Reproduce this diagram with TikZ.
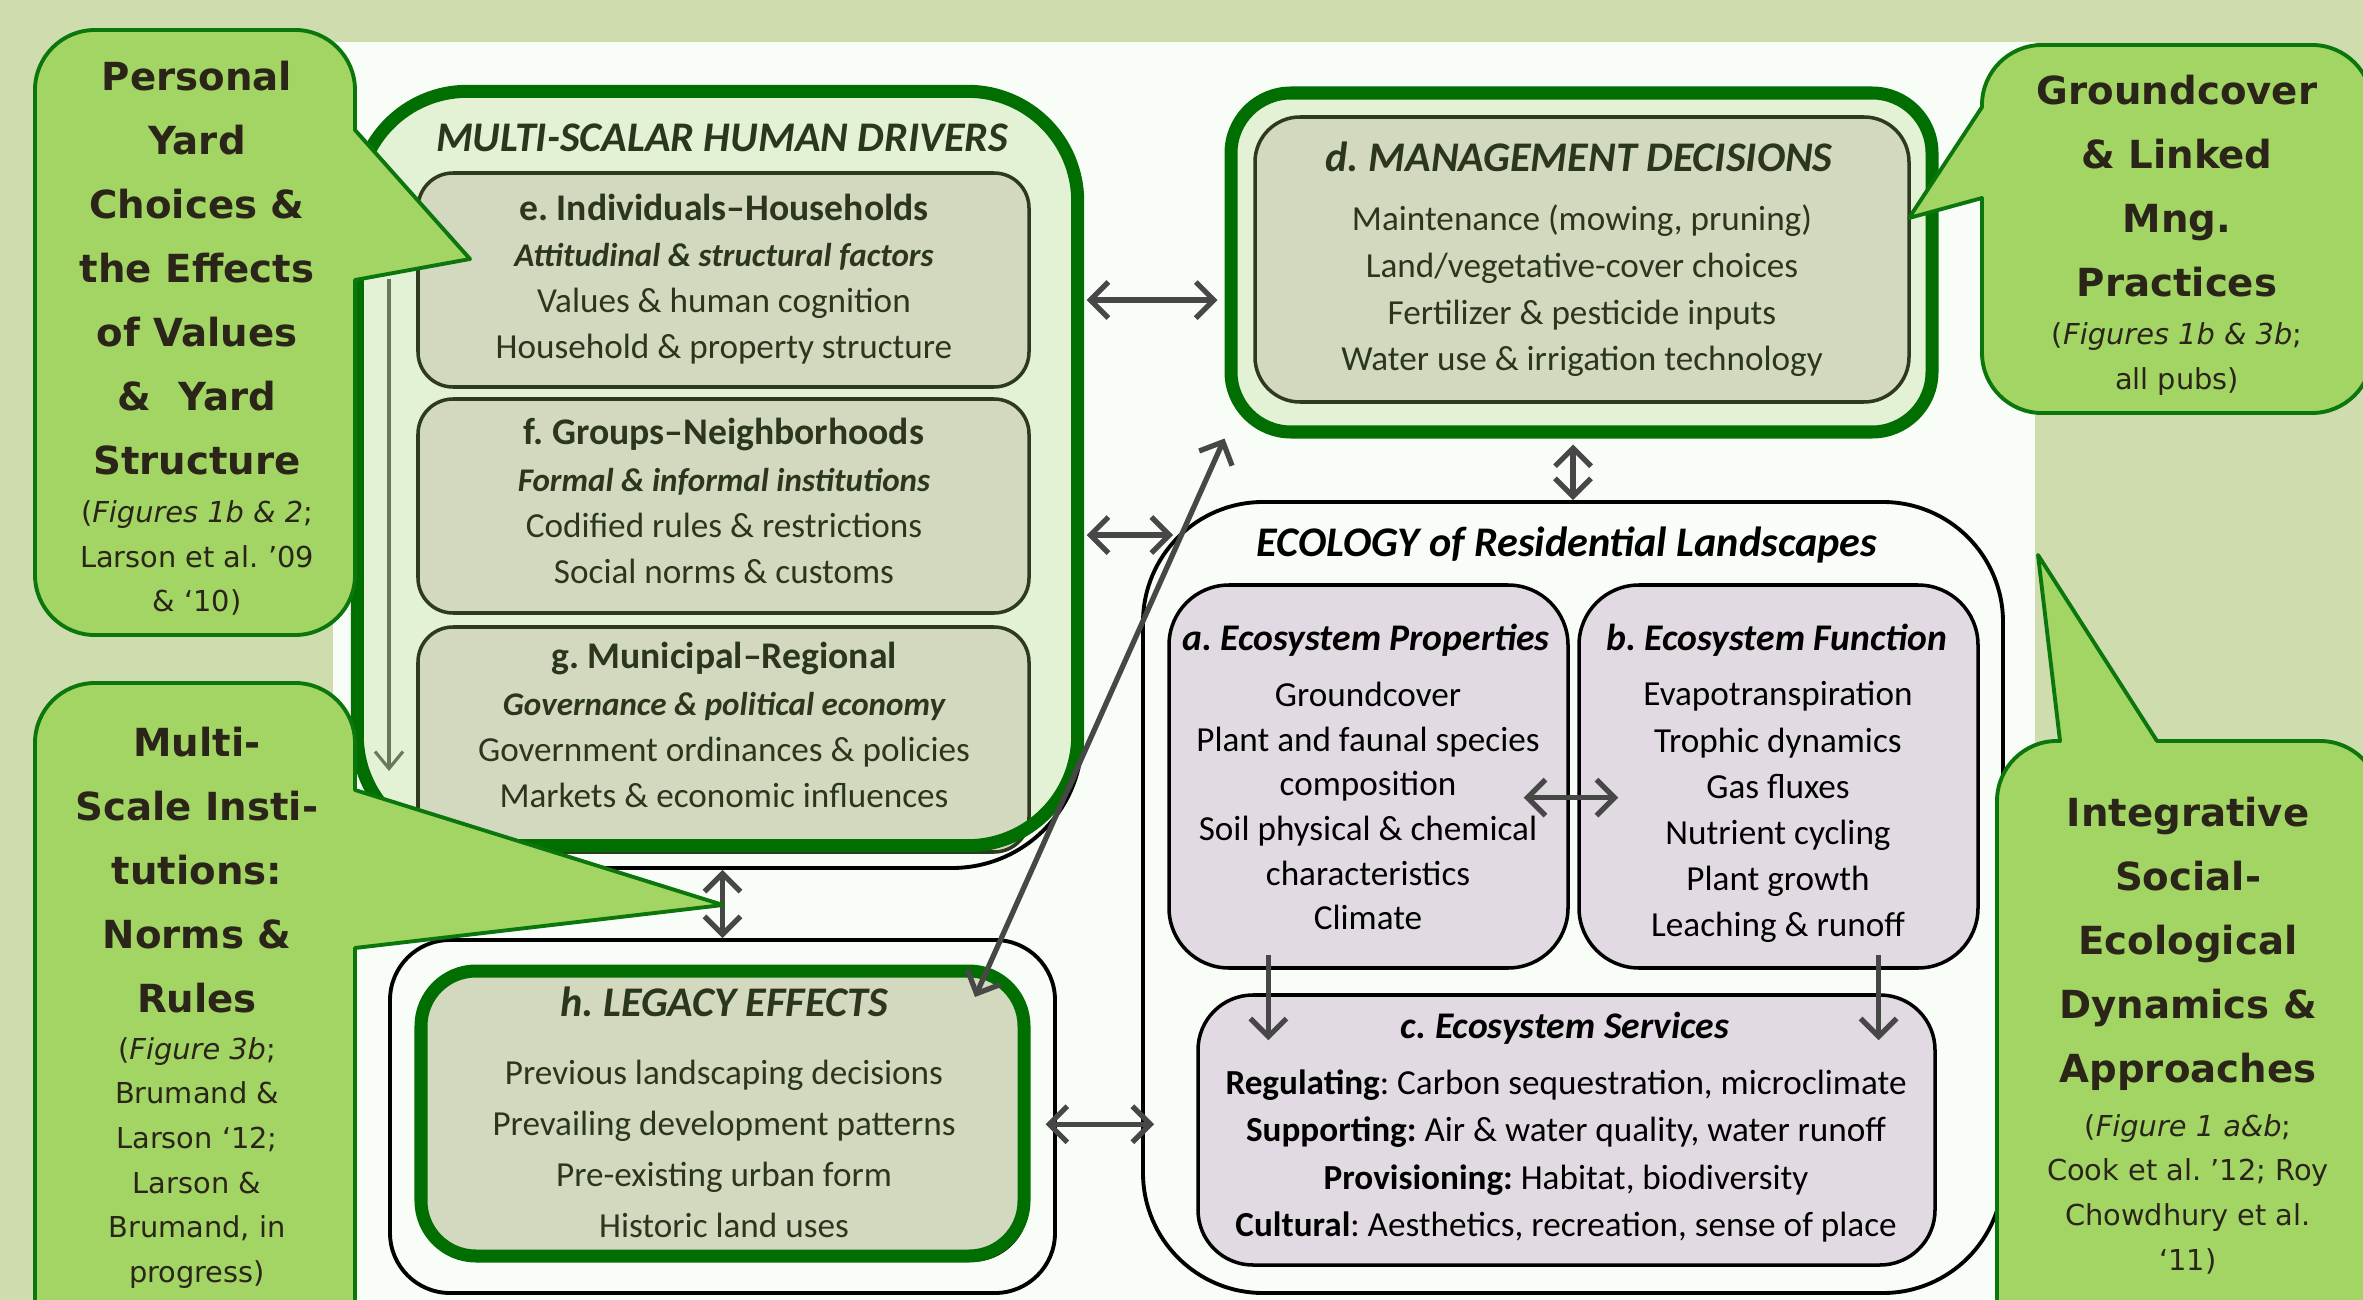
\documentclass[tikz,border=0pt]{standalone}
\usepackage{fontspec}
\setmainfont{Carlito}
\newfontfamily\callfont{DejaVu Sans}
\usetikzlibrary{arrows.meta,fit}
\frenchspacing

\definecolor{sage}{HTML}{CFDCAE}
\definecolor{panel}{HTML}{F9FDF8}
\definecolor{leafgreen}{HTML}{006E00}
\definecolor{paleleaf}{HTML}{E3F1D5}
\definecolor{olivefill}{HTML}{D3D9BF}
\definecolor{oliveline}{HTML}{2E3A20}
\definecolor{olivetext}{HTML}{2B371D}
\definecolor{lilac}{HTML}{E2DAE2}
\definecolor{callfill}{HTML}{A3D565}
\definecolor{callline}{HTML}{0B760B}
\definecolor{calltext}{HTML}{2A2518}
\definecolor{arrowgray}{HTML}{474747}
\definecolor{scalegray}{HTML}{687A5C}

\newcommand\boxhead[1]{{\fontsize{10.7}{13}\selectfont\bfseries #1}}
\newcommand\boxsub[1]{{\fontsize{9.4}{12}\selectfont\bfseries\itshape #1}}

\tikzset{
  greenbox/.style={fill=paleleaf, inner sep=0pt, rounded corners=1.1cm},
  greenrim/.style={draw=leafgreen, line width=3.7pt},
  olivebox/.style={draw=oliveline, fill=olivefill, line width=1pt, inner sep=0pt, rounded corners=0.35cm},
  ecobox/.style={draw=black, fill=lilac, line width=1pt, inner sep=0pt, rounded corners=0.6cm},
  blackbox/.style={draw=black, line width=1.1pt, inner sep=0pt},
  link/.style={draw=arrowgray, line width=1.5pt},
  callout/.style={fill=callfill, draw=callline, line width=1.1pt, line join=round},
  bigtitle/.style={inner sep=0pt, font=\fontsize{12}{14}\selectfont\bfseries\itshape},
  drvtext/.style={align=center, inner sep=0pt, text=olivetext, font=\fontsize{10}{13.1}\selectfont},
  ecohead/.style={inner sep=0pt, font=\fontsize{10.7}{13}\selectfont\bfseries\itshape},
  ecotext/.style={align=center, inner sep=0pt, font=\fontsize{10}{13.1}\selectfont},
  callbig/.style={align=center, inner sep=0pt, text=calltext, font=\callfont\fontsize{11}{18.2}\selectfont\bfseries},
  callsmall/.style={align=center, inner sep=0pt, text=calltext, font=\callfont\fontsize{8.2}{12.7}\selectfont}
}

\begin{document}
\begin{tikzpicture}[x=0.01cm, y=-0.01cm, >={Straight Barb[length=1.8mm,width=3.6mm]}]
\useasboundingbox (0,0) rectangle (2363,1300);
\clip (0,0) rectangle (2363,1300);
\fill[sage] (0,0) rectangle (2363,1300);
\fill[panel] (333,42) rectangle (2035,1300);

\node[blackbox, rounded corners=1.3cm, fit={(357,92) (1082,868)}] (mblack) {};
\node[greenbox, fit={(358,92) (1077,845)}] (multi) {};
\node[olivebox, fit={(418,173) (1029,387)}] (e) {};
\node[olivebox, fit={(418,399) (1029,613)}] (f) {};
\node[olivebox, fit={(418,627) (1029,852)}] (g) {};
\draw[greenrim, rounded corners=1.1cm] (multi.north west) rectangle (multi.south east);
\node[bigtitle, text=olivetext] (multihead) at (722,138) {MULTI-SCALAR HUMAN DRIVERS};
\node[drvtext] (etext) at (724,279) {\boxhead{e. Individuals–Households}\\\boxsub{Attitudinal \& structural factors}\\Values \& human cognition\\Household \& property structure};
\node[drvtext] (ftext) at (724,501) {\boxhead{f. Groups–Neighborhoods}\\\boxsub{Formal \& informal institutions}\\Codified rules \& restrictions\\Social norms \& customs};
\node[drvtext] (gtext) at (724,725) {\boxhead{g. Municipal–Regional}\\\boxsub{Governance \& political economy}\\Government ordinances \& policies\\Markets \& economic influences};
\coordinate (scaletop) at (389,279);
\coordinate (scalebot) at (389,771);
\draw[draw=scalegray, line width=0.9pt, -{Straight Barb[length=1.7mm,width=2.8mm]}] (scaletop) -- (scalebot);

\node[blackbox, rounded corners=0.6cm, fit={(1228,90) (1929,429)}] (dshade) {};
\node[greenbox, greenrim, rounded corners=0.6cm, fit={(1231,93) (1932,432)}] (dgreen) {};
\node[olivebox, rounded corners=0.45cm, fit={(1255,117) (1909,402)}] (d) {};
\node[bigtitle, text=olivetext] (dhead) at (1579,157) {d. MANAGEMENT DECISIONS};
\node[drvtext, font=\fontsize{10}{13.3}\selectfont] (dtext) at (1582,291) {Maintenance (mowing, pruning)\\Land/vegetative-cover choices\\Fertilizer \& pesticide inputs\\Water use \& irrigation technology};

\node[blackbox, rounded corners=1.2cm, fit={(1143,502) (2003,1293)}] (eco) {};
\node[bigtitle] (ecotitle) at (1567,545) {ECOLOGY of Residential Landscapes};
\node[ecobox, fit={(1169,585) (1568,968)}] (a) {};
\node[ecobox, fit={(1579,585) (1978,968)}] (b) {};
\node[ecobox, rounded corners=0.55cm, fit={(1198,995) (1935,1265)}] (c) {};
\node[ecohead] (ahead) at (1366,640) {a. Ecosystem Properties};
\node[ecotext, font=\fontsize{10}{12.7}\selectfont] (atext) at (1368,806) {Groundcover\\Plant and faunal species\\composition\\Soil physical \& chemical\\characteristics\\Climate};
\node[ecohead] (bhead) at (1777,640) {b. Ecosystem Function};
\node[ecotext] (btext) at (1778,812) {Evapotranspiration\\Trophic dynamics\\Gas fluxes\\Nutrient cycling\\Plant growth\\Leaching \& runoff};
\node[ecohead] (chead) at (1565,1028) {c. Ecosystem Services};
\node[ecotext, font=\fontsize{10}{13.5}\selectfont] (ctext) at (1566,1156) {\textbf{Regulating}: Carbon sequestration, microclimate\\\textbf{Supporting:} Air \& water quality, water runoff\\\textbf{Provisioning:} Habitat, biodiversity\\\textbf{Cultural}: Aesthetics, recreation, sense of place};

\node[blackbox, rounded corners=0.6cm, fit={(390,940) (1055,1293)}] (lblack) {};
\node[blackbox, rounded corners=0.55cm, fit={(424,974) (1027,1260)}] (lshade) {};
\node[olivebox, draw=leafgreen, line width=3.7pt, rounded corners=0.55cm, fit={(421,971) (1024,1256)}] (legreen) {};
\node[bigtitle, text=olivetext] (lhead) at (724,1002) {h. LEGACY EFFECTS};
\node[drvtext, font=\fontsize{10}{14.5}\selectfont] (ltext) at (724,1149) {Previous landscaping decisions\\Prevailing development patterns\\Pre-existing urban form\\Historic land uses};

\coordinate (legtip) at (975,997);
\coordinate (aout) at ([xshift=-1cm]a.south);
\coordinate (bout) at ([xshift=1cm]b.south);
\draw[link, <->, shorten <=0.9mm, shorten >=0.7mm] (multi.east |- dgreen.186) -- (dgreen.186);
\draw[link, <->, shorten <=0.9mm, shorten >=-3.2mm] (multi.east |- eco.140) -- (eco.140);
\draw[link, <->, shorten <=0.6mm] (dgreen.south -| eco.north) -- (eco.north);
\draw[link, <->] (dgreen.south west) -- (legtip);
\draw[link, <->, shorten <=1.5mm, shorten >=-1.3mm] (legreen.-2) -- (eco.west |- legreen.-2);
\draw[link, <->] (mblack.south -| lblack.north) -- (lblack.north);
\draw[link, <->, shorten <=-4.6mm, shorten >=-4.1mm] (a.-6) -- (b.west |- a.-6);
\draw[link, ->, shorten <=-1.5mm, shorten >=-4.7mm] (aout) -- (aout |- c.north);
\draw[link, ->, shorten <=-1.5mm, shorten >=-4.7mm] (bout) -- (bout |- c.north);

\draw[callout] (355,130) -- (355,90) arc[start angle=0, end angle=90, radius=0.6cm] -- (95,30) arc[start angle=90, end angle=180, radius=0.6cm] -- (35,575) arc[start angle=180, end angle=270, radius=0.6cm] -- (295,635) arc[start angle=270, end angle=360, radius=0.6cm] -- (355,280) -- (470,259) -- cycle;
\draw[callout] (355,790) -- (355,743) arc[start angle=0, end angle=90, radius=0.6cm] -- (95,683) arc[start angle=90, end angle=180, radius=0.6cm] -- (35,1340) -- (355,1340) -- (355,948) -- (723,905) -- cycle;
\draw[callout] (1982,198) -- (1982,353) arc[start angle=180, end angle=270, radius=0.6cm] -- (2312,413) arc[start angle=270, end angle=360, radius=0.6cm] -- (2372,105) arc[start angle=0, end angle=90, radius=0.6cm] -- (2042,45) arc[start angle=90, end angle=180, radius=0.6cm] -- (1982,107) -- (1909,218) -- cycle;
\draw[callout] (2157,741) -- (2320,741) arc[start angle=90, end angle=0, radius=0.6cm] -- (2380,1340) -- (1997,1340) -- (1997,801) arc[start angle=180, end angle=90, radius=0.6cm] -- (2060,741) -- (2038,555) -- cycle;

\node[callbig] (yardbig) at (197,268) {Personal\\Yard\\Choices \&\\the Effects\\of Values\\\&~ Yard\\Structure};
\node[callsmall] (yardref) at (197,558) {(\textit{Figures 1b \& 2};\\Larson et al. ’09\\\& ‘10)};
\node[callbig] (instbig) at (197,870) {Multi-\\Scale Insti-\\tutions:\\Norms \&\\Rules};
\node[callsmall] (instref) at (197,1163) {(\textit{Figure 3b};\\Brumand \&\\Larson ‘12;\\Larson \&\\Brumand, in\\progress)};
\node[callbig] (mngbig) at (2177,186) {Groundcover\\\& Linked\\Mng.\\Practices};
\node[callsmall] (mngref) at (2177,359) {(\textit{Figures 1b \& 3b};\\all pubs)};
\node[callbig] (sesbig) at (2188,944) {Integrative\\Social-\\Ecological\\Dynamics \&\\Approaches};
\node[callsmall] (sesref) at (2188,1194) {(\textit{Figure 1 a\&b};\\Cook et al. ’12; Roy\\Chowdhury et al.\\‘11)};
\end{tikzpicture}
\end{document}
